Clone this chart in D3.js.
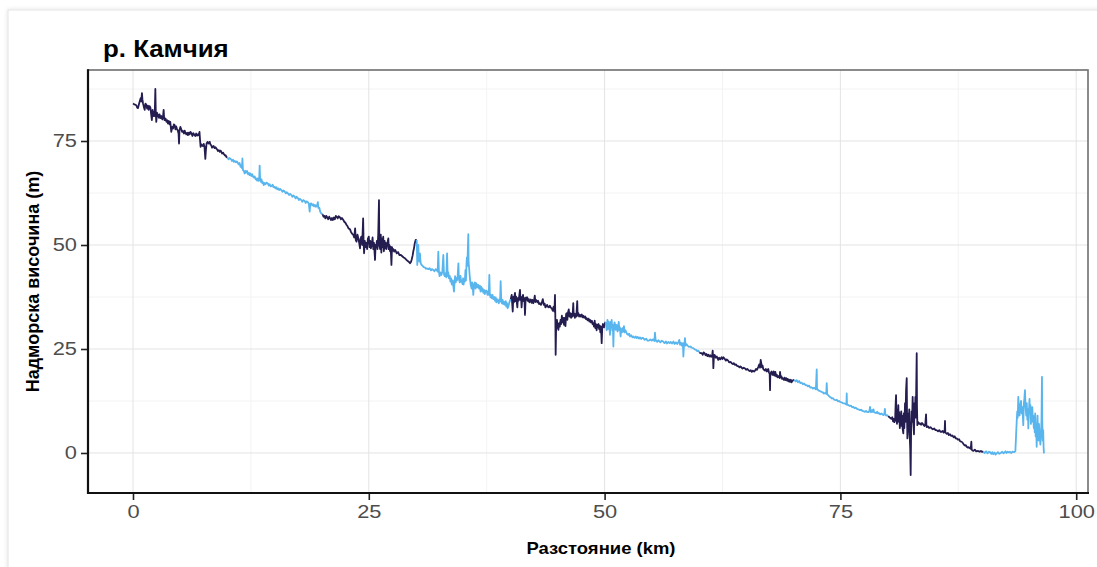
<!DOCTYPE html>
<html>
<head>
<meta charset="utf-8">
<script src="https://cdn.jsdelivr.net/npm/d3@7"></script>
<style>
  html, body { margin: 0; padding: 0; background: #ffffff; }
  svg { display: block; font-family: "Liberation Sans", Arial, sans-serif; }
</style>
</head>
<body>
<svg id="chart" width="1097" height="567"></svg>
<script>
// ---------------- DATA ----------------
const chartTitle = "р. Камчия";
const xAxisTitle = "Разстояние (km)";
const yAxisTitle = "Надморска височина (m)";
const xTicks = [0, 25, 50, 75, 100];
const yTicks = [0, 25, 50, 75];
const xMinorTicks = [12.5, 37.5, 62.5, 87.5];
const yMinorTicks = [12.5, 37.5, 62.5, 87.5];
const segmentColors = ["#241d50", "#59b5ee"];
const segmentLengthKm = 10;

// [distance along river (km), elevation (m)] read from the profile
const riverProfile = [
[0.00,84.0],[0.15,83.8],[0.35,83.6],[0.45,83.0],[0.53,82.9],[0.65,84.0],[0.81,85.3],[0.88,84.5],[0.95,86.5],[1.00,85.0],[1.06,84.1],[1.15,83.2],[1.24,82.5],[1.32,84.0],[1.41,83.7],[1.50,82.8],[1.58,83.5],[1.66,82.5],[1.75,83.4],[1.85,83.0],[1.92,81.5],[2.00,80.0],[2.08,82.5],[2.15,81.0],[2.20,82.0],[2.30,81.0],[2.37,87.5],[2.42,81.5],[2.47,79.6],[2.55,81.8],[2.65,81.2],[2.75,80.6],[2.82,81.4],[2.90,80.5],[3.00,81.0],[3.10,80.2],[3.18,80.8],[3.25,82.5],[3.30,80.5],[3.35,80.0],[3.45,80.4],[3.55,79.6],[3.63,80.0],[3.71,79.2],[3.80,79.8],[3.88,79.0],[3.95,79.6],[4.00,78.6],[4.06,77.2],[4.15,78.4],[4.25,78.0],[4.33,79.0],[4.42,78.8],[4.50,77.8],[4.58,78.5],[4.65,78.0],[4.75,77.5],[4.83,76.8],[4.88,74.4],[4.93,77.6],[5.02,78.4],[5.12,77.8],[5.20,77.2],[5.30,77.4],[5.40,76.8],[5.48,77.5],[5.55,77.0],[5.65,76.6],[5.75,77.0],[5.83,76.4],[5.92,77.0],[6.00,76.6],[6.10,77.2],[6.20,76.8],[6.30,76.2],[6.40,76.9],[6.50,76.5],[6.60,76.2],[6.70,76.8],[6.80,76.3],[6.88,76.6],[6.96,76.4],[7.05,77.2],[7.10,75.5],[7.17,73.6],[7.25,74.2],[7.32,73.9],[7.40,73.8],[7.50,74.3],[7.58,73.6],[7.67,70.7],[7.72,72.5],[7.80,74.4],[7.90,74.8],[8.00,74.4],[8.13,74.8],[8.22,74.1],[8.30,74.0],[8.38,73.4],[8.45,73.6],[8.55,73.8],[8.65,73.3],[8.75,73.5],[8.83,73.2],[8.92,73.0],[9.00,72.6],[9.10,72.8],[9.20,72.4],[9.28,72.7],[9.36,72.4],[9.45,72.0],[9.55,72.2],[9.65,71.8],[9.75,71.5],[9.82,71.6],[9.89,71.2],
[10.00,71.0],[10.15,70.6],[10.25,70.9],[10.40,70.6],[10.50,70.2],[10.60,70.5],[10.70,70.0],[10.78,70.2],[10.90,69.9],[11.00,70.1],[11.10,69.8],[11.20,69.4],[11.30,69.7],[11.40,68.8],[11.48,69.2],[11.55,68.5],[11.60,70.8],[11.66,68.0],[11.75,67.8],[11.84,67.2],[11.92,67.8],[12.00,67.4],[12.10,67.8],[12.20,67.0],[12.30,67.3],[12.37,66.8],[12.45,67.2],[12.55,66.6],[12.65,67.0],[12.70,66.6],[12.80,66.2],[12.90,66.5],[13.00,65.8],[13.07,66.0],[13.15,65.5],[13.22,66.0],[13.30,65.4],[13.38,65.8],[13.43,69.1],[13.48,65.6],[13.55,65.2],[13.62,65.8],[13.70,64.9],[13.78,65.1],[13.86,64.4],[13.95,64.9],[14.05,64.6],[14.15,65.0],[14.30,64.8],[14.40,64.3],[14.50,64.6],[14.60,64.1],[14.70,64.2],[14.80,64.5],[14.90,63.9],[15.02,64.0],[15.10,63.6],[15.20,63.9],[15.30,63.4],[15.40,63.6],[15.50,63.2],[15.60,63.5],[15.73,63.2],[15.85,62.8],[15.95,63.1],[16.10,62.8],[16.20,62.4],[16.30,62.7],[16.43,62.4],[16.55,62.0],[16.65,62.3],[16.80,62.0],[16.90,61.6],[17.00,61.9],[17.14,61.6],[17.25,61.2],[17.35,61.6],[17.50,61.2],[17.60,60.8],[17.70,61.1],[17.85,60.8],[17.95,60.4],[18.05,60.8],[18.20,60.6],[18.30,60.1],[18.40,60.5],[18.55,60.3],[18.65,59.8],[18.73,58.0],[18.80,59.9],[18.90,60.0],[19.00,59.5],[19.10,59.8],[19.20,59.3],[19.30,59.6],[19.40,59.2],[19.50,59.4],[19.60,60.3],[19.65,58.9],[19.75,59.0],[19.85,58.0],[19.97,57.6],
[20.10,57.4],[20.20,56.8],[20.30,57.0],[20.40,56.4],[20.50,57.0],[20.60,56.6],[20.70,56.2],[20.80,56.8],[20.90,56.4],[21.00,56.0],[21.10,56.5],[21.20,56.0],[21.30,56.6],[21.40,56.2],[21.50,57.0],[21.60,56.8],[21.70,56.4],[21.80,56.9],[21.95,56.6],[22.05,56.2],[22.15,56.5],[22.30,56.0],[22.40,55.6],[22.50,55.4],[22.65,54.8],[22.75,54.5],[22.85,54.0],[23.00,53.8],[23.10,53.2],[23.20,52.8],[23.36,52.4],[23.45,51.8],[23.55,54.0],[23.62,51.2],[23.70,50.8],[23.80,52.5],[23.90,51.5],[23.98,50.5],[24.07,49.2],[24.13,51.5],[24.20,52.0],[24.30,50.0],[24.40,56.4],[24.45,50.5],[24.50,48.0],[24.58,51.0],[24.65,49.5],[24.75,50.5],[24.82,49.0],[24.90,51.5],[25.00,52.0],[25.08,49.5],[25.15,51.0],[25.22,49.2],[25.30,50.0],[25.40,51.8],[25.48,49.0],[25.55,50.5],[25.66,46.4],[25.72,50.0],[25.80,49.5],[25.85,51.0],[25.92,49.0],[26.00,52.5],[26.08,60.8],[26.12,50.0],[26.20,49.0],[26.27,52.5],[26.33,48.2],[26.40,51.5],[26.47,49.5],[26.53,52.0],[26.60,48.5],[26.68,51.0],[26.75,49.2],[26.80,50.5],[26.87,49.0],[26.95,50.2],[27.07,51.6],[27.12,49.0],[27.18,50.0],[27.25,48.5],[27.32,49.6],[27.40,45.2],[27.46,49.5],[27.52,48.6],[27.60,49.0],[27.70,48.4],[27.80,48.8],[27.96,48.0],[28.10,48.3],[28.25,47.6],[28.40,47.6],[28.55,47.3],[28.70,47.0],[28.84,46.8],[28.97,46.5],[29.10,46.2],[29.23,46.0],[29.37,45.6],[29.47,45.9],[29.55,46.5],[29.65,47.5],[29.72,48.5],[29.79,49.2],[29.88,50.5],[29.97,51.2],
[30.08,51.2],[30.14,45.2],[30.20,49.5],[30.25,50.0],[30.30,46.5],[30.35,46.0],[30.42,48.0],[30.50,45.6],[30.60,45.2],[30.70,45.0],[30.80,44.7],[30.95,44.6],[31.05,44.3],[31.13,44.4],[31.30,44.2],[31.45,44.4],[31.60,43.9],[31.70,44.2],[31.84,44.0],[31.95,43.7],[32.10,44.2],[32.20,44.0],[32.30,43.6],[32.37,48.4],[32.43,43.8],[32.50,42.5],[32.60,43.4],[32.70,42.8],[32.80,43.6],[32.90,47.6],[32.97,43.0],[33.05,42.5],[33.15,43.2],[33.22,42.2],[33.30,48.0],[33.36,42.5],[33.42,43.5],[33.50,42.0],[33.58,42.6],[33.65,41.2],[33.73,42.0],[33.80,40.5],[33.90,41.5],[33.96,40.2],[34.03,38.8],[34.09,41.0],[34.15,42.5],[34.22,41.0],[34.28,42.0],[34.35,41.5],[34.42,42.5],[34.50,45.6],[34.55,41.8],[34.65,41.0],[34.72,42.6],[34.78,41.2],[34.85,41.5],[34.93,40.6],[35.00,42.0],[35.05,40.5],[35.12,41.8],[35.18,41.2],[35.25,44.0],[35.30,41.5],[35.36,45.5],[35.40,47.0],[35.45,45.0],[35.50,49.0],[35.55,52.6],[35.58,46.0],[35.65,44.0],[35.72,42.0],[35.80,40.5],[35.90,39.5],[35.95,41.0],[36.02,39.8],[36.08,38.0],[36.15,40.6],[36.25,41.0],[36.32,39.5],[36.38,40.8],[36.45,40.5],[36.52,39.8],[36.60,40.4],[36.70,39.5],[36.78,40.2],[36.85,38.8],[36.90,40.0],[36.98,39.0],[37.05,39.6],[37.15,38.5],[37.22,39.2],[37.30,38.2],[37.40,39.0],[37.50,39.0],[37.58,38.0],[37.65,38.8],[37.72,38.0],[37.78,42.8],[37.83,38.4],[37.90,37.4],[37.95,38.0],[38.05,37.2],[38.12,38.0],[38.20,37.0],[38.30,37.5],[38.38,36.6],[38.45,37.4],[38.52,36.2],[38.60,37.0],[38.70,36.5],[38.78,36.0],[38.85,37.0],[38.92,36.4],[38.98,41.3],[39.03,37.5],[39.10,36.0],[39.18,36.8],[39.25,35.8],[39.32,36.4],[39.44,35.6],[39.52,36.5],[39.58,35.2],[39.65,36.0],[39.72,34.8],[39.80,35.2],[39.90,36.2],
[40.05,37.0],[40.15,38.0],[40.20,36.0],[40.26,34.0],[40.32,37.5],[40.38,36.2],[40.45,37.8],[40.50,38.5],[40.56,36.5],[40.62,37.6],[40.68,36.4],[40.75,35.0],[40.80,37.2],[40.88,36.6],[40.95,37.8],[41.03,39.2],[41.08,36.8],[41.14,37.5],[41.20,35.0],[41.26,37.0],[41.35,38.0],[41.42,36.5],[41.50,37.2],[41.56,33.2],[41.62,36.6],[41.68,37.4],[41.74,36.8],[41.80,37.4],[41.88,36.5],[41.96,37.0],[42.03,36.2],[42.10,36.5],[42.18,36.9],[42.26,36.1],[42.35,36.8],[42.44,36.0],[42.52,36.7],[42.60,37.8],[42.66,36.3],[42.72,36.8],[42.80,36.6],[42.88,36.2],[42.95,36.6],[43.05,35.8],[43.15,36.0],[43.25,35.6],[43.35,36.2],[43.45,37.0],[43.55,35.6],[43.65,35.9],[43.72,35.0],[43.80,35.2],[43.90,35.6],[44.00,35.1],[44.10,35.0],[44.20,35.4],[44.30,34.9],[44.39,34.8],[44.50,34.2],[44.60,35.2],[44.68,34.0],[44.74,38.0],[44.78,32.0],[44.81,23.6],[44.86,30.0],[44.95,32.0],[45.02,30.2],[45.10,29.6],[45.18,31.2],[45.25,30.4],[45.33,32.0],[45.40,31.0],[45.47,33.0],[45.55,31.4],[45.62,32.5],[45.70,30.8],[45.75,32.5],[45.80,31.8],[45.85,30.5],[45.92,33.4],[45.98,33.6],[46.05,32.0],[46.12,33.8],[46.20,34.5],[46.28,32.8],[46.35,33.6],[46.45,32.5],[46.52,33.5],[46.60,32.8],[46.68,36.0],[46.72,33.0],[46.80,33.5],[46.85,32.5],[46.92,33.4],[47.00,32.8],[47.10,36.5],[47.14,33.0],[47.22,33.6],[47.30,32.8],[47.39,33.2],[47.48,32.8],[47.58,33.3],[47.66,32.6],[47.75,33.0],[47.85,32.5],[47.95,32.8],[48.02,32.2],[48.10,32.4],[48.20,31.9],[48.30,32.3],[48.38,31.6],[48.45,32.0],[48.55,31.4],[48.65,31.8],[48.72,31.0],[48.80,31.2],[48.87,30.4],[48.95,31.8],[49.02,30.0],[49.08,31.0],[49.15,29.5],[49.22,30.8],[49.28,30.2],[49.35,31.0],[49.42,29.8],[49.48,30.6],[49.55,29.0],[49.62,30.4],[49.69,26.4],[49.75,30.0],[49.82,31.0],[49.87,30.8],[49.94,30.2],
[50.05,31.5],[50.15,31.2],[50.22,29.5],[50.30,32.0],[50.36,29.8],[50.42,31.6],[50.50,30.4],[50.57,28.4],[50.63,31.5],[50.70,30.2],[50.75,32.0],[50.82,29.4],[50.88,30.8],[50.93,25.6],[50.98,30.0],[51.05,31.4],[51.10,31.0],[51.18,29.6],[51.25,30.8],[51.30,30.0],[51.38,29.2],[51.44,30.6],[51.50,31.5],[51.56,29.6],[51.62,30.2],[51.70,28.0],[51.76,29.8],[51.83,29.0],[51.90,30.0],[51.98,29.2],[52.05,30.5],[52.12,29.0],[52.20,29.5],[52.27,29.2],[52.38,28.6],[52.50,28.4],[52.60,28.7],[52.70,28.0],[52.82,28.3],[52.95,27.8],[53.05,28.0],[53.18,27.7],[53.30,28.0],[53.40,27.6],[53.52,27.9],[53.65,27.5],[53.75,27.8],[53.88,27.4],[54.00,27.7],[54.10,27.6],[54.25,27.2],[54.40,27.5],[54.55,27.0],[54.70,27.0],[54.85,27.3],[55.00,27.0],[55.10,27.3],[55.20,27.2],[55.28,26.9],[55.34,28.9],[55.40,27.3],[55.45,27.0],[55.58,26.7],[55.70,27.1],[55.80,26.9],[55.92,26.6],[56.05,27.0],[56.20,26.8],[56.35,26.4],[56.50,26.8],[56.62,26.3],[56.75,26.7],[56.90,26.4],[57.02,26.7],[57.15,26.3],[57.30,26.8],[57.42,26.2],[57.55,26.6],[57.70,26.2],[57.82,26.6],[57.92,27.2],[58.00,26.0],[58.10,26.5],[58.20,25.8],[58.30,26.4],[58.35,23.2],[58.42,26.0],[58.48,26.5],[58.52,27.6],[58.58,25.8],[58.66,26.2],[58.80,25.8],[58.95,25.5],[59.10,25.6],[59.25,25.3],[59.40,25.2],[59.55,24.9],[59.70,24.8],[59.82,24.5],[59.94,24.6],
[60.05,24.2],[60.15,24.0],[60.30,24.0],[60.40,23.6],[60.50,24.2],[60.60,24.0],[60.70,23.5],[60.80,23.8],[60.90,23.3],[61.00,23.6],[61.10,23.2],[61.20,23.5],[61.30,23.1],[61.40,23.3],[61.46,24.6],[61.50,22.8],[61.53,20.4],[61.58,22.8],[61.65,23.6],[61.70,23.4],[61.80,22.9],[61.90,23.2],[62.05,22.4],[62.15,22.9],[62.25,22.5],[62.40,23.0],[62.50,22.6],[62.60,23.0],[62.75,22.6],[62.85,22.2],[62.95,22.5],[63.10,22.2],[63.20,21.8],[63.35,21.9],[63.47,21.6],[63.60,21.4],[63.70,21.6],[63.80,21.2],[63.92,21.3],[64.05,20.9],[64.17,20.9],[64.30,20.6],[64.40,20.8],[64.50,20.6],[64.62,20.3],[64.75,20.5],[64.89,20.3],[65.00,20.0],[65.12,20.2],[65.25,19.9],[65.38,19.7],[65.50,19.9],[65.60,19.5],[65.72,19.8],[65.85,19.6],[65.95,19.8],[66.05,20.2],[66.15,20.0],[66.30,20.7],[66.40,21.3],[66.48,20.5],[66.55,22.4],[66.62,21.5],[66.68,20.6],[66.75,21.0],[66.82,20.2],[66.90,20.0],[67.00,19.8],[67.10,20.2],[67.20,19.6],[67.28,19.9],[67.35,20.2],[67.42,19.4],[67.50,19.0],[67.54,15.1],[67.57,19.0],[67.60,19.2],[67.70,19.6],[67.78,18.8],[67.85,18.8],[67.92,19.6],[68.00,18.6],[68.10,19.5],[68.18,18.4],[68.26,18.8],[68.34,18.2],[68.42,18.3],[68.50,18.6],[68.56,18.0],[68.60,19.5],[68.66,18.2],[68.75,18.4],[68.82,17.8],[68.90,18.0],[69.00,17.6],[69.08,18.1],[69.16,17.5],[69.25,18.0],[69.35,17.4],[69.42,17.8],[69.50,17.2],[69.58,17.6],[69.66,17.1],[69.75,17.6],[69.82,17.0],[69.94,17.4],
[70.10,17.6],[70.25,17.2],[70.37,17.5],[70.50,17.0],[70.62,17.3],[70.75,16.8],[70.90,16.9],[71.02,16.5],[71.15,16.7],[71.30,16.3],[71.43,16.3],[71.55,16.0],[71.68,16.2],[71.80,15.7],[71.95,15.8],[72.08,15.5],[72.20,15.7],[72.30,15.5],[72.40,15.3],[72.49,20.1],[72.52,15.4],[72.60,15.2],[72.70,15.0],[72.82,14.9],[73.00,14.7],[73.12,14.6],[73.25,14.3],[73.40,14.4],[73.50,14.2],[73.55,16.8],[73.60,14.1],[73.70,13.9],[73.82,13.6],[73.95,13.4],[74.08,13.1],[74.20,13.2],[74.35,12.8],[74.50,12.7],[74.62,12.8],[74.75,12.4],[74.88,12.5],[74.96,12.3],[75.10,12.2],[75.25,12.0],[75.40,11.9],[75.55,11.8],[75.64,11.6],[75.67,14.3],[75.70,11.6],[75.85,11.5],[76.00,11.3],[76.12,11.4],[76.25,11.0],[76.37,11.1],[76.50,10.8],[76.62,10.9],[76.75,10.6],[76.90,10.5],[77.08,10.3],[77.20,10.4],[77.35,10.1],[77.50,10.0],[77.60,9.9],[77.72,10.1],[77.85,9.8],[78.00,9.8],[78.08,10.2],[78.14,11.1],[78.20,10.0],[78.25,9.8],[78.35,10.3],[78.42,9.9],[78.50,10.5],[78.58,9.8],[78.68,9.7],[78.80,9.6],[78.90,9.9],[79.00,9.5],[79.10,9.6],[79.22,9.3],[79.35,9.5],[79.45,9.3],[79.55,9.1],[79.65,9.3],[79.72,10.6],[79.76,9.2],[79.85,9.0],[79.92,9.1],
[80.08,8.9],[80.18,8.6],[80.30,8.4],[80.40,8.2],[80.50,8.6],[80.58,7.6],[80.65,8.2],[80.72,7.4],[80.80,7.9],[80.86,12.0],[80.90,13.9],[80.95,8.0],[81.00,7.0],[81.05,10.5],[81.10,8.0],[81.14,11.5],[81.18,7.5],[81.24,9.8],[81.30,6.0],[81.36,8.5],[81.41,7.0],[81.45,10.0],[81.50,6.5],[81.55,9.0],[81.60,5.8],[81.67,4.7],[81.72,9.5],[81.78,6.0],[81.85,12.0],[81.90,7.5],[81.96,15.0],[82.03,18.0],[82.07,8.0],[82.10,3.5],[82.15,5.0],[82.20,9.5],[82.25,6.0],[82.30,10.5],[82.35,4.0],[82.40,1.0],[82.45,-5.3],[82.50,6.0],[82.55,10.0],[82.60,7.5],[82.66,13.5],[82.72,8.0],[82.80,4.5],[82.86,12.0],[82.90,9.0],[82.95,13.5],[83.00,8.5],[83.04,16.0],[83.09,24.0],[83.12,11.0],[83.16,6.7],[83.25,7.4],[83.35,7.0],[83.44,7.1],[83.55,6.8],[83.65,7.2],[83.80,6.8],[83.90,6.5],[84.00,6.9],[84.08,9.3],[84.12,6.6],[84.15,6.2],[84.28,6.4],[84.40,6.0],[84.55,6.2],[84.68,5.9],[84.80,5.7],[84.95,5.9],[85.08,5.5],[85.20,5.5],[85.35,5.2],[85.48,5.5],[85.60,5.1],[85.74,5.1],[85.85,5.3],[85.95,4.9],[86.05,5.2],[86.09,7.7],[86.12,5.0],[86.15,4.9],[86.28,4.6],[86.40,4.8],[86.50,4.3],[86.62,4.5],[86.75,4.1],[86.88,4.2],[87.00,3.8],[87.12,4.0],[87.22,3.5],[87.33,3.5],[87.45,3.2],[87.58,3.3],[87.70,2.8],[87.86,2.7],[87.98,2.4],[88.10,2.0],[88.22,1.8],[88.30,1.9],[88.39,1.5],[88.50,1.3],[88.60,1.4],[88.70,1.2],[88.82,1.0],[88.88,2.7],[88.92,0.8],[89.00,0.6],[89.10,0.5],[89.25,0.8],[89.40,0.4],[89.60,0.5],[89.75,0.3],[89.90,0.5],[89.98,0.3],
[90.15,0.3],[90.30,0.0],[90.45,0.4],[90.60,-0.1],[90.75,0.3],[90.86,0.2],[91.00,-0.2],[91.10,0.2],[91.20,-0.3],[91.35,0.1],[91.45,-0.4],[91.57,-0.1],[91.70,0.2],[91.85,-0.2],[92.00,0.0],[92.15,0.3],[92.30,-0.1],[92.50,0.4],[92.62,0.0],[92.75,0.3],[92.88,0.1],[92.98,0.3],[93.10,0.0],[93.25,0.3],[93.40,0.2],[93.55,0.4],[93.62,4.0],[93.69,7.5],[93.75,10.0],[93.80,8.5],[93.86,13.5],[93.92,10.5],[94.00,9.0],[94.07,11.5],[94.15,12.5],[94.22,9.5],[94.30,11.0],[94.35,8.5],[94.39,6.7],[94.45,12.0],[94.50,13.0],[94.57,15.1],[94.62,11.5],[94.70,9.0],[94.76,12.0],[94.82,8.0],[94.88,10.5],[94.92,5.9],[94.97,9.0],[95.05,13.0],[95.10,9.5],[95.15,11.5],[95.20,7.0],[95.26,10.0],[95.30,8.0],[95.35,11.0],[95.40,7.5],[95.45,9.0],[95.50,6.0],[95.55,8.0],[95.60,5.0],[95.65,9.5],[95.70,4.0],[95.75,6.5],[95.81,1.5],[95.85,6.0],[95.90,9.0],[95.95,4.0],[96.00,3.0],[96.05,7.0],[96.10,5.0],[96.15,3.5],[96.20,2.0],[96.26,4.0],[96.32,8.0],[96.37,18.3],[96.40,8.0],[96.45,3.0],[96.50,5.5],[96.54,1.5],[96.58,-0.1]
];

// ---------------- CHART ----------------
const svg = d3.select("#chart");
const W = 1097, H = 567;
const panel = { left: 88, right: 1088, top: 70, bottom: 493 };
const textStretch = 1.18;

// card background
const defs = svg.append("defs");
const f = defs.append("filter").attr("id", "shadow").attr("x", "-5%").attr("y", "-5%").attr("width", "110%").attr("height", "110%");
f.append("feDropShadow").attr("dx", 0).attr("dy", 0).attr("stdDeviation", 2).attr("flood-color", "#000").attr("flood-opacity", 0.12);
svg.append("rect").attr("x", 0).attr("y", 0).attr("width", W).attr("height", H).attr("fill", "#ffffff");
svg.append("rect").attr("x", 8).attr("y", 10).attr("width", W + 20).attr("height", H + 20)
  .attr("fill", "#ffffff").attr("stroke", "#e4e4e4").attr("stroke-width", 1).attr("filter", "url(#shadow)");

const x = d3.scaleLinear().domain([-4.77, 101.25]).range([panel.left, panel.right]);
const y = d3.scaleLinear().domain([-9.62, 92.07]).range([panel.bottom, panel.top]);

// grid
const grid = svg.append("g");
grid.selectAll(".xminor").data(xMinorTicks).enter().append("line")
  .attr("x1", d => x(d)).attr("x2", d => x(d)).attr("y1", panel.top).attr("y2", panel.bottom)
  .attr("stroke", "#f0f0f0").attr("stroke-width", 0.8);
grid.selectAll(".yminor").data(yMinorTicks).enter().append("line")
  .attr("y1", d => y(d)).attr("y2", d => y(d)).attr("x1", panel.left).attr("x2", panel.right)
  .attr("stroke", "#f0f0f0").attr("stroke-width", 0.8);
grid.selectAll(".xmajor").data(xTicks).enter().append("line")
  .attr("x1", d => x(d)).attr("x2", d => x(d)).attr("y1", panel.top).attr("y2", panel.bottom)
  .attr("stroke", "#e3e3e3").attr("stroke-width", 1);
grid.selectAll(".ymajor").data(yTicks).enter().append("line")
  .attr("y1", d => y(d)).attr("y2", d => y(d)).attr("x1", panel.left).attr("x2", panel.right)
  .attr("stroke", "#e3e3e3").attr("stroke-width", 1);

// data segments coloured by 10-km stretch
const points = riverProfile.map(d => ({ km: d[0], m: d[1] }));
const nSeg = Math.ceil(d3.max(points, p => p.km) / segmentLengthKm);
const line = d3.line().x(d => x(d.km)).y(d => y(d.m));
const lines = svg.append("g");
for (let s = 0; s < nSeg; s++) {
  const idx = [];
  points.forEach((p, i) => { if (Math.floor(p.km / segmentLengthKm) === s) idx.push(i); });
  if (!idx.length) continue;
  const last = idx[idx.length - 1];
  const seg = idx.map(i => points[i]);
  if (last + 1 < points.length) seg.push(points[last + 1]);
  lines.append("path").datum(seg).attr("d", line)
    .attr("fill", "none").attr("stroke", segmentColors[s % 2])
    .attr("stroke-width", 1.8).attr("stroke-linejoin", "round");
}

// panel border
svg.append("rect").attr("x", panel.left).attr("y", panel.top)
  .attr("width", panel.right - panel.left).attr("height", panel.bottom - panel.top)
  .attr("fill", "none").attr("stroke", "#6e6e6e").attr("stroke-width", 1.6);
svg.append("line").attr("x1", panel.left).attr("x2", panel.left).attr("y1", panel.top - 0.8).attr("y2", panel.bottom + 1)
  .attr("stroke", "#111").attr("stroke-width", 2.2);
svg.append("line").attr("x1", panel.left - 1).attr("x2", panel.right + 1).attr("y1", panel.bottom).attr("y2", panel.bottom)
  .attr("stroke", "#111").attr("stroke-width", 2.2);

// axes
const yAxis = svg.append("g").attr("transform", `translate(${panel.left - 1},0)`)
  .call(d3.axisLeft(y).tickValues(yTicks).tickSize(6).tickPadding(4).tickFormat(d3.format("d")));
const xAxis = svg.append("g").attr("transform", `translate(0,${panel.bottom + 1})`)
  .call(d3.axisBottom(x).tickValues(xTicks).tickSize(6).tickPadding(5).tickFormat(d3.format("d")));
[yAxis, xAxis].forEach(a => {
  a.select(".domain").remove();
  a.selectAll(".tick line").attr("stroke", "#222").attr("stroke-width", 1.6);
  a.selectAll(".tick text").attr("fill", "#4d4d4d").style("font-size", "18.5px")
    .style("font-family", "'Liberation Sans', Arial, sans-serif")
    .attr("transform", `scale(${textStretch},1)`);
});
yAxis.selectAll(".tick text").attr("x", -10 / textStretch);

// titles
svg.append("g").attr("transform", `translate(103,57) scale(1.1,1)`)
  .append("text").text(chartTitle)
  .style("font-size", "23.5px").style("font-weight", "bold").attr("fill", "#000");
svg.append("g").attr("transform", `translate(601,554) scale(1.12,1)`)
  .append("text").attr("text-anchor", "middle").text(xAxisTitle)
  .style("font-size", "16.5px").style("font-weight", "bold").attr("fill", "#000");
svg.append("text").attr("transform", `translate(39,${(panel.top + panel.bottom) / 2}) rotate(-90)`)
  .attr("text-anchor", "middle").text(yAxisTitle)
  .style("font-size", "18px").style("font-weight", "bold").attr("fill", "#000");
</script>
</body>
</html>
